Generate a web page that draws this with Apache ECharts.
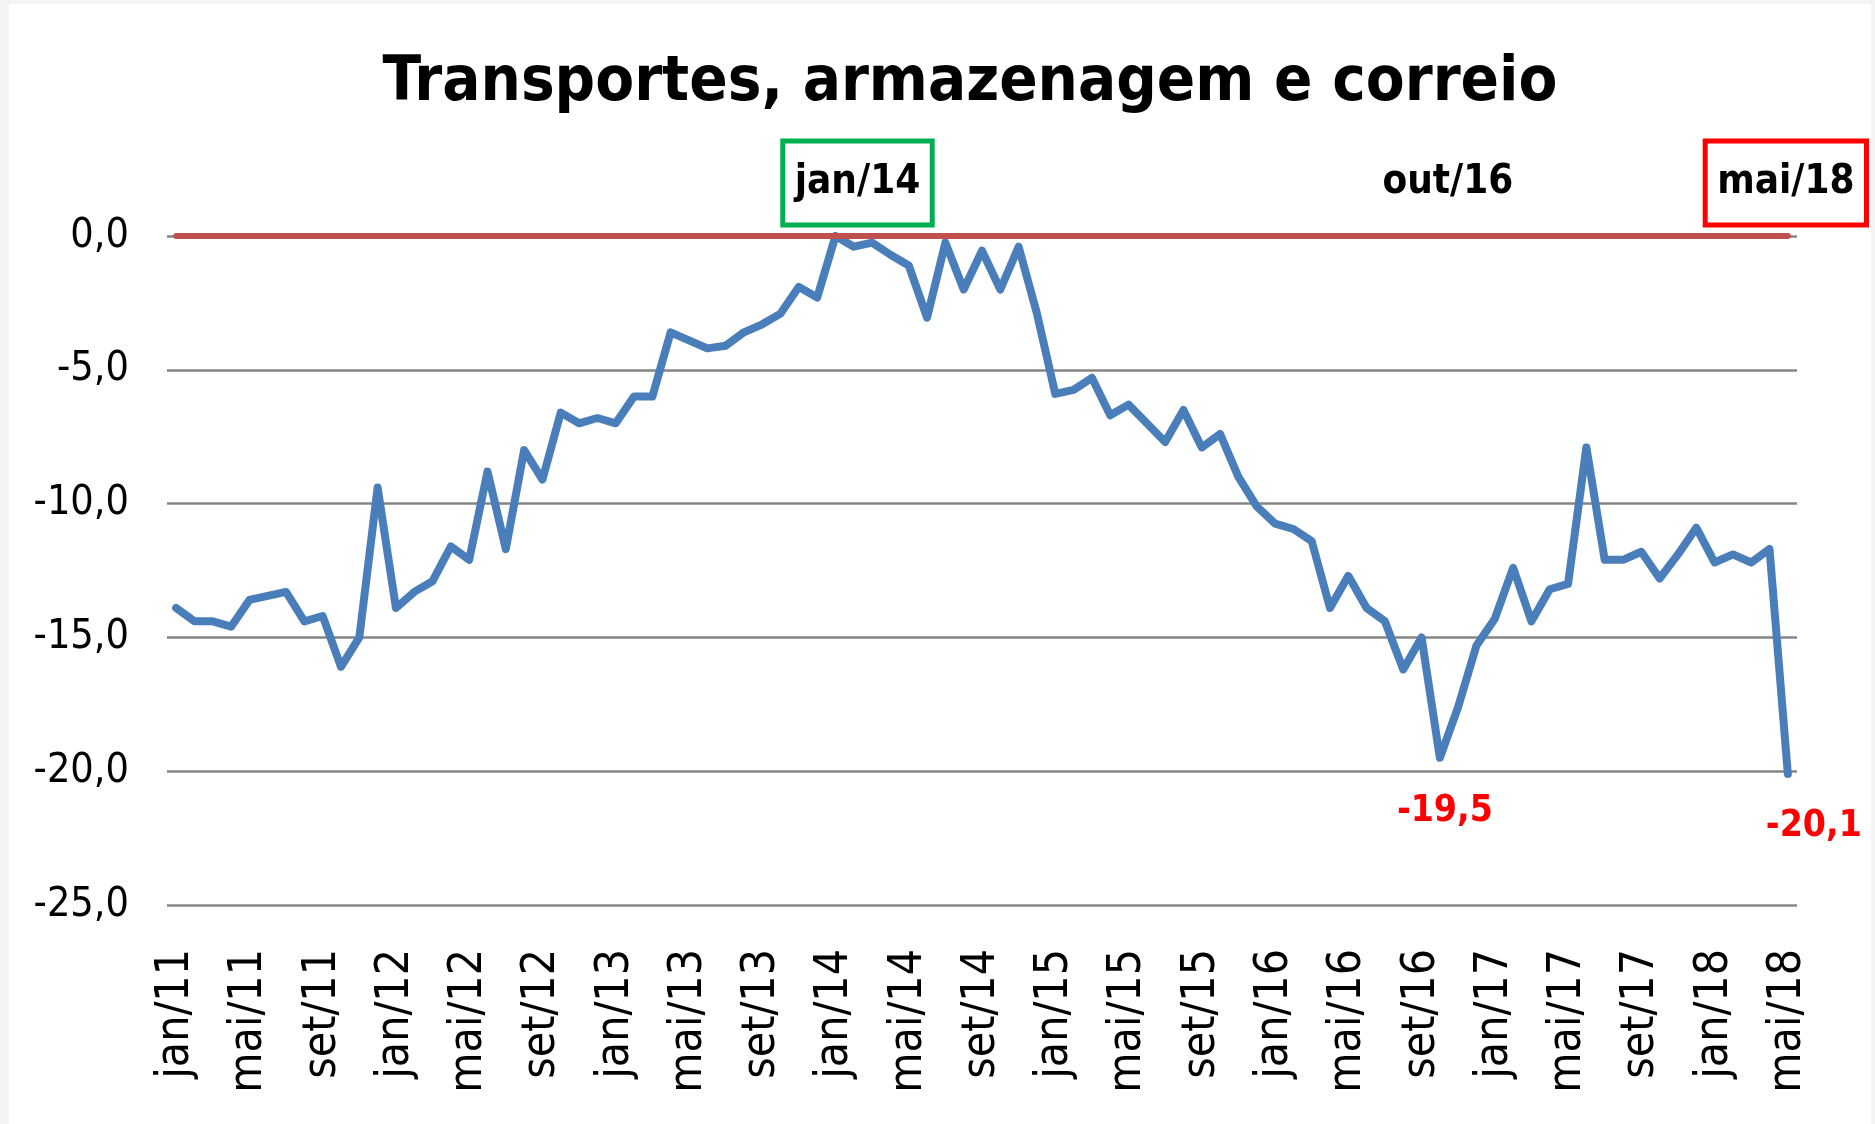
<!DOCTYPE html>
<html>
<head>
<meta charset="utf-8">
<script src="https://cdn.jsdelivr.net/npm/echarts@6/dist/echarts.min.js"></script>
<style>
  html, body { margin: 0; padding: 0; background: #f4f4f4; }
  #chart { position: absolute; left: 9px; top: 4px; width: 1862px; height: 1120px; background: #fff; }
</style>
</head>
<body>
<div id="chart"></div>
<script>
  const FONT = '"DejaVu Sans Condensed", "Liberation Sans", sans-serif'

  // eixo x: meses de jan/11 a mai/18
  const meses = ['jan', 'fev', 'mar', 'abr', 'mai', 'jun', 'jul', 'ago', 'set', 'out', 'nov', 'dez']
  const anos = ['11', '12', '13', '14', '15', '16', '17', '18']
  const categorias = []
  anos.forEach(a => meses.forEach(m => categorias.push(m + '/' + a)))
  categorias.length = categorias.indexOf('mai/18') + 1

  // variação acumulada (%)
  const valores = [
    -13.9, -14.4, -14.4, -14.6, -13.6, -13.45, -13.3, -14.4, -14.2, -16.1, -15.0, -9.4,
    -13.9, -13.3, -12.9, -11.6, -12.1, -8.8, -11.7, -8.0, -9.1, -6.6, -7.0, -6.8,
    -7.0, -6.0, -6.0, -3.6, -3.9, -4.2, -4.1, -3.6, -3.3, -2.9, -1.9, -2.3,
    0.0, -0.4, -0.25, -0.7, -1.1, -3.05, -0.25, -2.0, -0.55, -2.0, -0.4, -2.9,
    -5.9, -5.75, -5.3, -6.7, -6.3, -7.0, -7.7, -6.5, -7.9, -7.4, -9.0, -10.1,
    -10.75, -10.95, -11.4, -13.9, -12.7, -13.9, -14.4, -16.2, -15.0, -19.5, -17.6, -15.3,
    -14.3, -12.4, -14.4, -13.2, -13.0, -7.9, -12.1, -12.1, -11.8, -12.8, -11.9, -10.9,
    -12.2, -11.9, -12.2, -11.7, -20.1,
  ]

  // linha de referência no zero
  const linhaZero = [['jan/11', 0], ['mai/18', 0]]

  // destaques
  const datasDestaque = ['jan/14', 'out/16', 'mai/18']
  const valoresDestaque = ['out/16', 'mai/18']

  const fmt = v => v.toFixed(1).replace('.', ',')
  const idx = c => categorias.indexOf(c)

  const chart = echarts.init(document.getElementById('chart'))

  const dateLabel = (cat, border, dx) => ({
    coord: [cat, 0],
    label: {
      show: true,
      formatter: cat,
      offset: [dx, -53],
      fontFamily: FONT,
      fontWeight: 'bold',
      fontSize: 40,
      color: '#000',
      borderColor: border || 'transparent',
      borderWidth: border ? 5 : 0,
      padding: [42, 12, 2, 12],
    },
  })

  chart.setOption({
    backgroundColor: '#fff',
    animation: false,
    graphic: [
      {
        type: 'text',
        x: 970 - 9,
        y: 80,
        style: {
          text: 'Transportes, armazenagem e correio',
          fontFamily: FONT,
          fontWeight: 'bold',
          fontSize: 63,
          fill: '#000',
          align: 'center',
          verticalAlign: 'middle',
        },
      },
    ],
    grid: {
      left: 158,
      right: 74,
      top: 232,
      bottom: 219,
    },
    xAxis: {
      type: 'category',
      data: categorias,
      boundaryGap: true,
      axisLine: { show: false },
      axisTick: { show: false },
      axisLabel: {
        interval: 3,
        rotate: 90,
        margin: 44,
        fontFamily: FONT,
        fontSize: 46,
        color: '#000',
        padding: [12, 0, 0, 0],
      },
    },
    yAxis: {
      type: 'value',
      min: -25,
      max: 0,
      interval: 5,
      axisLine: { show: false },
      axisTick: { show: false },
      axisLabel: {
        margin: 38,
        fontFamily: FONT,
        fontSize: 41,
        color: '#000',
        formatter: fmt,
      },
      splitLine: {
        lineStyle: { color: '#868686', width: 2.5 },
      },
    },
    series: [
      {
        type: 'line',
        data: valores,
        z: 2,
        showSymbol: false,
        symbol: 'none',
        lineStyle: { color: '#4A7EBB', width: 8, join: 'round', cap: 'round' },
        markPoint: {
          symbol: 'rect',
          symbolSize: 1,
          itemStyle: { color: 'transparent' },
          silent: true,
          data: [
            dateLabel(datasDestaque[0], '#00B050', 22),
            dateLabel(datasDestaque[1], null, 8),
            dateLabel(datasDestaque[2], '#FF0000', -2),
          ].concat(valoresDestaque.map((c, i) => ({
            coord: [c, valores[idx(c)]],
            label: {
              show: true,
              formatter: fmt(valores[idx(c)]),
              offset: i === 0 ? [5, 54] : [26, 53],
              fontFamily: FONT,
              fontWeight: 'bold',
              fontSize: 37,
              color: '#FF0000',
            },
          }))),
        },
      },
      {
        type: 'line',
        data: linhaZero,
        z: 3,
        showSymbol: false,
        symbol: 'none',
        lineStyle: { color: '#C0504D', width: 6, cap: 'round' },
      },
    ],
  })
</script>
</body>
</html>
